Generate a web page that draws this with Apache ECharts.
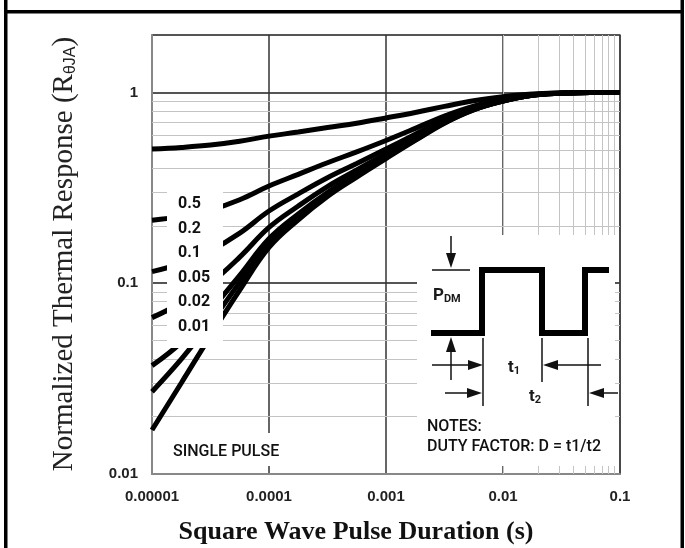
<!DOCTYPE html>
<html>
<head>
<meta charset="utf-8">
<script src="https://cdn.jsdelivr.net/npm/echarts@6/dist/echarts.min.js"></script>
<style>
  html, body { margin: 0; padding: 0; background: #fff; }
  #chart { width: 685px; height: 548px; }
</style>
</head>
<body>
<div id="chart"></div>
<script>
// pulse duration (s), read every quarter decade
var pulseTimes = [1e-5, 1.78e-5, 3.16e-5, 5.62e-5, 1e-4, 1.78e-4, 3.16e-4, 5.62e-4, 1e-3,
                  1.78e-3, 3.16e-3, 5.62e-3, 1e-2, 1.78e-2, 3.16e-2, 5.62e-2, 1e-1];

// normalized thermal response per duty factor
var d05    = [0.505, 0.515, 0.53, 0.555, 0.59, 0.62, 0.655, 0.69, 0.735, 0.785, 0.845, 0.905, 0.95, 0.982, 0.995, 1.0, 1.0];
var d02    = [0.214, 0.224, 0.242, 0.274, 0.323, 0.372, 0.428, 0.488, 0.56, 0.648, 0.752, 0.848, 0.92, 0.972, 0.992, 1.0, 1.0];
var d01    = [0.115, 0.127, 0.148, 0.183, 0.239, 0.294, 0.357, 0.424, 0.505, 0.604, 0.721, 0.829, 0.91, 0.969, 0.991, 1.0, 1.0];
var d005   = [0.066, 0.079, 0.100, 0.137, 0.196, 0.254, 0.321, 0.392, 0.478, 0.582, 0.706, 0.82, 0.905, 0.967, 0.99, 1.0, 1.0];
var d002   = [0.037, 0.049, 0.072, 0.110, 0.171, 0.231, 0.299, 0.373, 0.461, 0.569, 0.696, 0.814, 0.902, 0.966, 0.99, 1.0, 1.0];
var d001   = [0.027, 0.040, 0.062, 0.101, 0.162, 0.223, 0.292, 0.366, 0.456, 0.564, 0.693, 0.812, 0.901, 0.965, 0.99, 1.0, 1.0];
var single = [0.017, 0.030, 0.053, 0.092, 0.154, 0.215, 0.285, 0.36, 0.45, 0.56, 0.69, 0.81, 0.90, 0.965, 0.99, 1.0, 1.0];

var dutyLabels = ['0.5', '0.2', '0.1', '0.05', '0.02', '0.01'];

// axis ticks
var xTicks = [1e-5, 1e-4, 1e-3, 1e-2, 1e-1];
var xTickLabels = ['0.00001', '0.0001', '0.001', '0.01', '0.1'];
var yTicks = [0.01, 0.1, 1];
var yTickLabels = ['0.01', '0.1', '1'];

// minor grid positions
var xMinor = [2e-5, 3e-5, 4e-5, 5e-5, 6e-5, 7e-5, 8e-5, 9e-5,
              2e-4, 3e-4, 4e-4, 5e-4, 6e-4, 7e-4, 8e-4, 9e-4,
              2e-3, 3e-3, 4e-3, 5e-3, 6e-3, 7e-3, 8e-3, 9e-3,
              2e-2, 3e-2, 4e-2, 5e-2, 6e-2, 7e-2, 8e-2, 9e-2];
var yMinor = [0.02, 0.03, 0.04, 0.05, 0.06, 0.07, 0.08, 0.09,
              0.2, 0.3, 0.4, 0.5, 0.6, 0.7, 0.8, 0.9];

function pairs(arr) {
  return pulseTimes.map(function (t, i) { return [t, arr[i]]; });
}
function tickName(v, ticks, names) {
  for (var i = 0; i < ticks.length; i++) {
    if (Math.abs(Math.log10(v) - Math.log10(ticks[i])) < 1e-6) return names[i];
  }
  return '';
}

var chart = echarts.init(document.getElementById('chart'));

var ink = '#111';
var labelFont = 'Roboto, "Liberation Sans", sans-serif';

function seg(x1, y1, x2, y2, w) {
  return { type: 'line', z: 102, silent: true,
    shape: { x1: x1, y1: y1, x2: x2, y2: y2 },
    style: { stroke: ink, lineWidth: w || 1.5 } };
}
function head(tx, ty, dir) {
  var L = 15, W = 5, p;
  if (dir === 'r') p = [[tx, ty], [tx - L, ty - W], [tx - L, ty + W]];
  if (dir === 'l') p = [[tx, ty], [tx + L, ty - W], [tx + L, ty + W]];
  if (dir === 'd') p = [[tx, ty], [tx - W, ty - L], [tx + W, ty - L]];
  if (dir === 'u') p = [[tx, ty], [tx - W, ty + L], [tx + W, ty + L]];
  return { type: 'polygon', z: 102, silent: true, shape: { points: p }, style: { fill: ink } };
}
function txt(x, y, s, size, extra) {
  var st = { text: s, x: x, y: y, fill: '#111', fontSize: size, fontFamily: labelFont,
    fontWeight: 500, verticalAlign: 'middle', align: 'left' };
  for (var k in extra) st[k] = extra[k];
  return { type: 'text', z: 103, silent: true, style: st };
}
function sub(x, y, a, b) {
  return { type: 'text', z: 103, silent: true, style: {
    text: '{b|' + a + '}{s|' + b + '}', x: x, y: y, verticalAlign: 'middle',
    rich: { b: { fontSize: 17, fontFamily: labelFont, fontWeight: 'bold', fill: '#1a1a1a' },
            s: { fontSize: 11, fontFamily: labelFont, fontWeight: 'bold', fill: '#1a1a1a', verticalAlign: 'bottom', padding: [6, 0, 0, 0] } } } };
}

var graphics = [
  // frame of the table cell
  { type: 'rect', z: 90, shape: { x: 4, y: 0, width: 3.5, height: 548 }, style: { fill: '#000' } },
  { type: 'rect', z: 90, shape: { x: 680.5, y: 0, width: 3.5, height: 548 }, style: { fill: '#000' } },
  { type: 'rect', z: 90, shape: { x: 4, y: 10, width: 680, height: 3.5 }, style: { fill: '#000' } },

  // white patches
  { type: 'rect', z: 100, shape: { x: 167, y: 192, width: 56, height: 156 }, style: { fill: '#fff' } },
  { type: 'rect', z: 100, shape: { x: 160, y: 433, width: 125, height: 33 }, style: { fill: '#fff' } },
  { type: 'rect', z: 100, shape: { x: 417, y: 235, width: 198, height: 231 }, style: { fill: '#fff' } },

  // pulse train
  { type: 'polyline', z: 102, silent: true,
    shape: { points: [[431, 333], [482, 333], [482, 270], [542, 270], [542, 333], [585, 333], [585, 270], [609, 270]] },
    style: { stroke: '#000', lineWidth: 6, lineJoin: 'miter', fill: null } },

  seg(432, 270, 470, 270),
  seg(451, 236, 451, 258), head(451, 268, 'd'),
  seg(451, 348, 451, 380), head(451, 337, 'u'),
  seg(432, 365, 470, 365), head(483, 365, 'r'),
  seg(483, 338, 483, 406),
  seg(542, 338, 542, 382),
  seg(588, 338, 588, 406),
  seg(556, 365, 601, 365), head(543, 365, 'l'),
  seg(445, 393, 470, 393), head(482, 393, 'r'),
  seg(600, 393, 618, 393), head(589, 393, 'l'),

  sub(433, 296, 'P', 'DM'),
  sub(508, 368, 't', '1'),
  sub(529, 397, 't', '2'),

  txt(427, 427, 'NOTES:', 16),
  txt(427, 447, 'DUTY FACTOR: D = t1/t2', 16),
  txt(173, 452, 'SINGLE PULSE', 16),

  // axis titles
  { type: 'text', z: 103, silent: true, x: 64, y: 254, rotation: Math.PI / 2, style: {
    text: '{m|Normalized Thermal Response (R}{s|θJA}{m|)}', x: 0, y: 0,
    align: 'center', verticalAlign: 'middle',
    rich: { m: { fontSize: 29, fontFamily: '"Liberation Serif", serif', fill: '#222' },
            s: { fontSize: 16, fontFamily: '"Liberation Sans", sans-serif', fill: '#222', verticalAlign: 'bottom', padding: [8, 0, 0, 0] } } } },
  { type: 'text', z: 103, silent: true, style: {
    text: 'Square Wave Pulse Duration (s)', x: 356, y: 532,
    align: 'center', verticalAlign: 'middle',
    fontSize: 26, fontWeight: 'bold', fontFamily: '"Liberation Serif", serif', fill: '#111' } }
];

dutyLabels.forEach(function (s, i) {
  graphics.push(txt(178, 204 + 24.5 * i, s, 16, { fontWeight: 'bold' }));
});

function curve(name, arr) {
  return {
    name: name, type: 'line', data: pairs(arr),
    symbol: 'none', smooth: 0.4, silent: true, z: 5,
    lineStyle: { color: '#000', width: 5 }
  };
}

var option = {
  animation: false,
  grid: { left: 152, right: 65, top: 35, bottom: 74, show: true, borderColor: '#666', borderWidth: 1.5, outerBoundsMode: 'none' },
  xAxis: {
    type: 'log', logBase: 10, min: 1e-5, max: 0.1,
    axisLine: { show: true, lineStyle: { color: '#888', width: 2 } },
    axisTick: { show: false },
    axisLabel: {
      margin: 15, fontSize: 15, fontWeight: 'bold', color: '#222', fontFamily: '"Liberation Sans", Arial, sans-serif',
      formatter: function (v) { return tickName(v, xTicks, xTickLabels); }
    },
    splitLine: { show: true, showMinLine: false, showMaxLine: false, lineStyle: { color: '#333', width: 1.5 } }
  },
  yAxis: {
    type: 'log', logBase: 10, min: 0.01, max: 2,
    axisLine: { show: true, lineStyle: { color: '#888', width: 2 } },
    axisTick: { show: false },
    axisLabel: {
      margin: 14, fontSize: 15, fontWeight: 'bold', color: '#222', fontFamily: '"Liberation Sans", Arial, sans-serif',
      formatter: function (v) { return tickName(v, yTicks, yTickLabels); }
    },
    splitLine: { show: true, showMinLine: false, lineStyle: { color: '#555', width: 2 } }
  },
  series: [
    {
      type: 'line', data: [[1e-5, 0.01]], symbol: 'none', silent: true, z: 1,
      lineStyle: { width: 0 },
      markLine: {
        silent: true, symbol: 'none', animation: false,
        label: { show: false },
        lineStyle: { color: '#c4c4c4', width: 1, type: 'solid' },
        emphasis: { disabled: true },
        data: xMinor.map(function (v) { return { xAxis: v }; })
          .concat(yMinor.map(function (v) { return { yAxis: v }; }))
      }
    },
    curve('0.5', d05),
    curve('0.2', d02),
    curve('0.1', d01),
    curve('0.05', d005),
    curve('0.02', d002),
    curve('0.01', d001),
    curve('SINGLE PULSE', single)
  ],
  graphic: { elements: graphics }
};

chart.setOption(option);
</script>
</body>
</html>
